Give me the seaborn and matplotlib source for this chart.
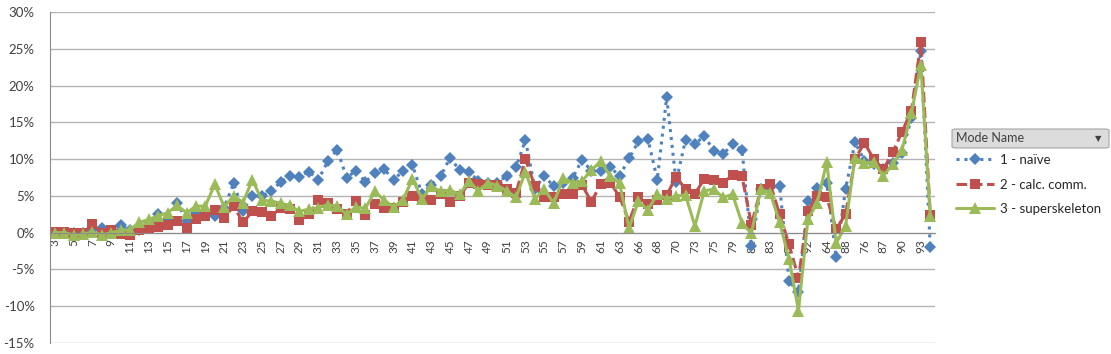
import numpy as np
import pandas as pd
import matplotlib
matplotlib.use("Agg")
import matplotlib.pyplot as plt
import seaborn as sns
from matplotlib.patches import FancyBboxPatch
from matplotlib.lines import Line2D
from matplotlib.ticker import FixedLocator, FuncFormatter, MultipleLocator

# Category order as it appears on the x axis (only every other label is shown)
categories = [str(n) for n in range(3, 64)] + [
    "65", "66", "67", "68", "69", "70", "71", "73", "74", "75", "77", "79",
    "80", "81", "82", "83", "84", "89", "91", "92", "72", "64", "78", "88",
    "85", "76", "86", "87", "94", "90", "95", "93", "96",
]

series_names = ["1 - naïve", "2 - calc. comm.", "3 - superskeleton"]

# values in percent, one per category
naive = [
    0.0, 0.0, -0.1, 0.0, 0.3, 0.6, 0.2, 1.0, 0.4, 0.3,
    1.3, 2.5, 1.8, 4.1, 1.6, 2.7, 3.0, 2.2, 3.4, 6.7,
    3.0, 5.0, 5.0, 5.6, 6.9, 7.7, 7.6, 8.3, 7.2, 9.7,
    11.3, 7.5, 8.4, 6.9, 8.1, 8.6, 7.2, 8.4, 9.2, 5.3,
    6.5, 7.7, 10.2, 8.5, 8.3, 7.0, 6.8, 6.8, 7.7, 8.9,
    12.6, 6.0, 7.7, 6.3, 6.8, 7.4, 9.9, 8.4, 8.4, 8.9,
    7.7, 10.1, 12.4, 12.8, 7.2, 18.4, 6.9, 12.6, 12.0, 13.2,
    11.1, 10.7, 12.0, 11.3, -1.8, 6.0, 6.2, 6.4, -6.6, -8.1,
    4.3, 6.1, 6.8, -3.3, 5.9, 12.3, 9.8, 9.3, 8.6, 9.5,
    10.8, 15.6, 24.7, -2.0,
]
calc_comm = [
    0.1, 0.1, 0.0, -0.1, 1.2, 0.0, 0.4, -0.2, -0.3, 0.3,
    0.5, 0.8, 1.1, 1.6, 0.7, 1.8, 2.3, 3.1, 2.0, 3.6,
    1.4, 2.9, 2.8, 2.2, 3.4, 3.2, 1.7, 2.5, 4.4, 4.1,
    3.2, 2.6, 4.3, 2.4, 3.9, 3.3, 3.4, 4.2, 5.0, 4.6,
    4.5, 5.3, 4.2, 5.0, 6.7, 6.6, 6.5, 6.5, 5.9, 5.4,
    10.0, 6.3, 4.8, 4.8, 5.2, 5.3, 6.5, 4.2, 6.6, 6.8,
    4.9, 1.5, 4.9, 3.9, 4.4, 5.1, 7.6, 5.9, 5.3, 7.3,
    7.1, 6.7, 7.9, 7.7, 1.1, 5.9, 6.6, 2.5, -1.6, -6.2,
    2.9, 5.0, 4.8, 0.5, 2.5, 10.0, 12.2, 10.0, 8.6, 10.9,
    13.7, 16.6, 25.9, 2.4,
]
superskeleton = [
    0.0, 0.0, -0.3, -0.2, 0.1, -0.3, 0.0, 0.3, 0.4, 1.4,
    1.8, 2.3, 2.7, 3.7, 2.7, 3.6, 3.6, 6.6, 3.5, 5.0,
    4.1, 7.2, 4.4, 4.3, 4.0, 3.7, 2.9, 3.2, 3.4, 3.8,
    3.6, 2.5, 3.5, 3.3, 5.6, 4.4, 3.5, 4.5, 7.3, 4.6,
    6.3, 5.6, 5.8, 5.2, 7.0, 5.7, 6.8, 6.4, 5.7, 4.8,
    8.3, 4.6, 5.9, 4.0, 7.4, 6.8, 7.0, 8.5, 9.7, 7.7,
    6.7, 0.6, 4.3, 3.1, 5.2, 4.6, 5.0, 5.1, 0.9, 5.7,
    5.9, 4.8, 5.2, 1.3, -0.1, 5.9, 5.4, 1.4, -3.6, -10.6,
    1.8, 4.1, 9.6, -1.4, 0.9, 10.2, 9.5, 9.6, 7.7, 9.3,
    11.3, 16.3, 22.8, 2.2,
]

colors = {"1 - naïve": "#4F81BD", "2 - calc. comm.": "#C0504D", "3 - superskeleton": "#9BBB59"}
markers = {"1 - naïve": "D", "2 - calc. comm.": "s", "3 - superskeleton": "^"}
dashes = {"1 - naïve": (1, 1.6), "2 - calc. comm.": (3.5, 1.5), "3 - superskeleton": None}
msizes = {"1 - naïve": 6, "2 - calc. comm.": 7, "3 - superskeleton": 8}

n = len(categories)
df = pd.DataFrame({
    "pos": np.tile(np.arange(n), 3),
    "value": naive + calc_comm + superskeleton,
    "Mode Name": np.repeat(series_names, n),
})

sns.set_style("white")
plt.rcParams["font.family"] = ["Lato", "DejaVu Sans"]

W, H = 1111, 354
fig = plt.figure(figsize=(W / 100, H / 100), dpi=100)
ax = fig.add_axes([50 / W, 1 - 343 / H, (935 - 50) / W, (343 - 12) / H])

# one call per series so each keeps its own marker / dash pattern
for name in series_names:
    sns.lineplot(
        data=df[df["Mode Name"] == name], x="pos", y="value",
        color=colors[name], marker=markers[name], markersize=msizes[name],
        markeredgewidth=0, linewidth=2.2, sort=False, ax=ax, legend=False,
    )
    if dashes[name]:
        ax.lines[-1].set_dashes(dashes[name])

ax.set_xlim(-0.5, n - 0.5)
ax.set_ylim(-15, 30)
ax.set_xlabel("")
ax.set_ylabel("")

# y axis
ax.yaxis.set_major_locator(MultipleLocator(5))
ax.yaxis.set_major_formatter(FuncFormatter(lambda v, p: f"{v:.0f}%"))
ax.yaxis.grid(True, color="#B3B3B3", linewidth=1.0)
ax.set_axisbelow(True)
ax.tick_params(axis="y", length=0, pad=11, labelsize=9.5, labelcolor="#404040")

# category axis sits at 0
for s in ["top", "right"]:
    ax.spines[s].set_visible(False)
ax.spines["left"].set_color("#8C8C8C")
ax.spines["bottom"].set_position(("data", 0))
ax.spines["bottom"].set_color("#8C8C8C")
ax.xaxis.set_major_locator(FixedLocator(np.arange(0, n, 2)))
ax.set_xticklabels(categories[::2], rotation=90)
ax.xaxis.set_minor_locator(FixedLocator(np.arange(n + 1) - 0.5))
ax.tick_params(axis="x", which="major", length=0, pad=5, labelsize=8.5, labelcolor="#404040")
ax.tick_params(axis="x", which="minor", length=4, color="#8C8C8C", direction="out")

# legend header box
hx0, hy0, hx1, hy1 = 952, 129, 1109, 148
fig.patches.append(FancyBboxPatch(
    (hx0 / W, 1 - hy1 / H), (hx1 - hx0) / W, (hy1 - hy0) / H,
    boxstyle="round,pad=0,rounding_size=0.004", transform=fig.transFigure,
    facecolor="#DCDCDC", edgecolor="#A6A6A6", linewidth=0.8))
fig.text(956 / W, 1 - 138.5 / H, "Mode Name", fontsize=9, color="#404040", va="center", ha="left")
fig.text(1098 / W, 1 - 138.5 / H, "▼", fontsize=6, color="#404040", va="center", ha="center",
         family=["DejaVu Sans"])

handles = []
for name in series_names:
    h = Line2D([], [], color=colors[name], marker=markers[name], markersize=msizes[name],
               markeredgewidth=0, linewidth=2.2)
    if dashes[name]:
        h.set_dashes(dashes[name])
    handles.append(h)
fig.legend(handles, series_names, loc="upper left", bbox_to_anchor=(956 / W, 1 - 154 / H),
           frameon=False, fontsize=9.5, handlelength=2.9, handletextpad=0.4,
           labelspacing=0.95, borderpad=0, borderaxespad=0, labelcolor="#262626")

fig.savefig("out.png", dpi=100)
